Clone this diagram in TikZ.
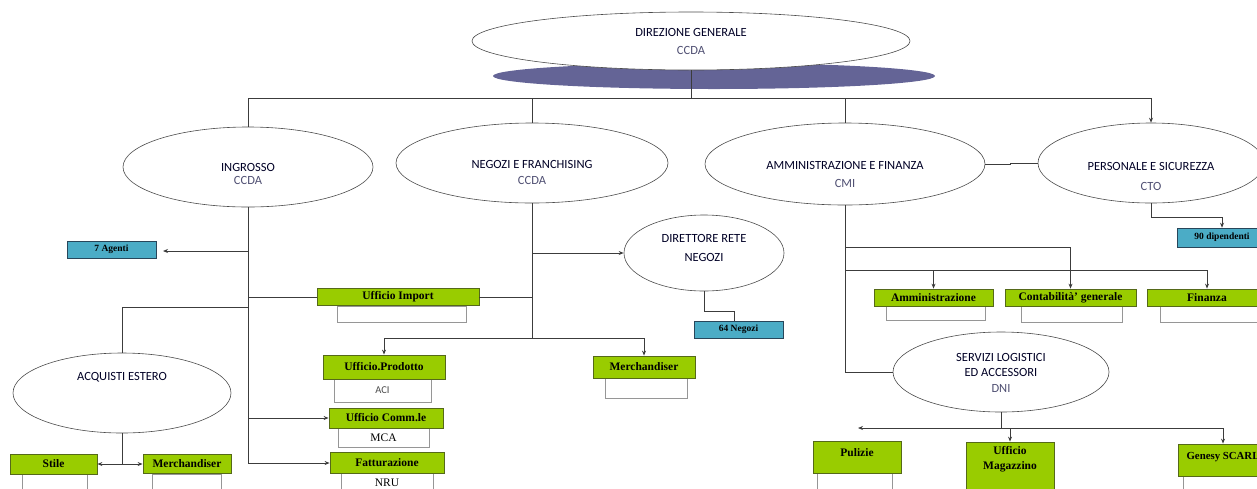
\documentclass[tikz,border=0pt]{standalone}
\usepackage{fontspec}
\setmainfont{Liberation Serif}
\newfontfamily\calibri{Carlito}
\usetikzlibrary{shapes.geometric,arrows.meta}
\definecolor{gfill}{RGB}{153,204,0}
\definecolor{gdraw}{RGB}{85,105,25}
\definecolor{bfill}{RGB}{75,172,198}
\definecolor{bdraw}{RGB}{40,70,90}
\definecolor{shad}{RGB}{100,100,150}
\definecolor{codec}{RGB}{80,80,115}
\definecolor{wdraw}{RGB}{150,150,150}
\definecolor{linec}{RGB}{60,60,60}
\begin{document}
\begin{tikzpicture}[x=1pt,y=-1pt,
  ell/.style={ellipse, draw=black!70, line width=0.6pt, fill=white, inner sep=0},
  etext/.style={font=\calibri\fontsize{12.5}{#1}\selectfont, align=center, inner sep=0, text=black!85!blue},
  gbox/.style={draw=gdraw, fill=gfill, line width=0.8pt, inner sep=0, font=\bfseries\fontsize{11.5}{13}\selectfont},
  bbox/.style={draw=bdraw, fill=bfill, line width=0.6pt, inner sep=0, font=\bfseries\fontsize{9.5}{11}\selectfont},
  wbox/.style={draw=wdraw, fill=white, line width=0.8pt, inner sep=0},
  conn/.style={draw=linec, line width=0.9pt},
  arr/.style={-{Stealth[length=5pt,width=4pt]}}]
\useasboundingbox (0,0) rectangle (1257,488);
\clip (0,0) rectangle (1257,488);

% top
\node[ellipse, fill=shad, minimum width=442pt, minimum height=26pt, inner sep=0] (shadow) at (714,76) {};
\node[ell, minimum width=438pt, minimum height=58pt] (dir) at (691,41) {};
\node[etext=18] (dirT) at (691,41) {DIREZIONE GENERALE\\\textcolor{codec}{CCDA}};

% level 2 ellipses
\node[ell, minimum width=250pt, minimum height=80pt] (ing) at (248,167) {};
\node[etext=13] (ingT) at (248,173.5) {INGROSSO\\\textcolor{codec}{CCDA}};
\node[ell, minimum width=272pt, minimum height=80pt] (neg) at (532,163) {};
\node[etext=16] (negT) at (532,172) {NEGOZI E FRANCHISING\\\textcolor{codec}{CCDA}};
\node[ell, minimum width=280pt, minimum height=82pt] (amm) at (845,164) {};
\node[etext=18] (ammT) at (845,174) {AMMINISTRAZIONE E FINANZA\\\textcolor{codec}{CMI}};
\node[ell, minimum width=226pt, minimum height=80pt] (pers) at (1151,163) {};
\node[etext=20] (persT) at (1151,176) {PERSONALE E SICUREZZA\\\textcolor{codec}{CTO}};

\node[ell, minimum width=160pt, minimum height=76pt] (dir2) at (704,253) {};
\node[etext=19] (dir2T) at (704,247.5) {DIRETTORE RETE\\NEGOZI};
\node[ell, minimum width=218pt, minimum height=80pt] (acq) at (122,393) {};
\node[etext=15] (acqT) at (122,377) {ACQUISTI ESTERO};
\node[ell, minimum width=216pt, minimum height=80pt] (serv) at (1001,372) {};
\node[etext=15.5] (servT) at (1001,372.5) {SERVIZI LOGISTICI\\ED ACCESSORI\\\textcolor{codec}{DNI}};

% white boxes
\node[wbox, minimum width=129pt, minimum height=16pt] (impW) at (401.5,314) {};
\node[wbox, minimum width=97pt, minimum height=23pt, font=\calibri\fontsize{10.5}{12}\selectfont, text=black!70] (prodW) at (382.5,390.5) {ACI};
\node[wbox, minimum width=91pt, minimum height=19pt, font=\fontsize{11.5}{13}\selectfont] (comW) at (383.5,437.5) {MCA};
\node[wbox, minimum width=92pt, minimum height=20pt, font=\fontsize{11.5}{13}\selectfont] (fatW) at (387,483) {NRU};
\node[wbox, minimum width=82pt, minimum height=20pt] (merW) at (646,388) {};
\node[wbox, minimum width=99pt, minimum height=14pt] (admW) at (935.5,313) {};
\node[wbox, minimum width=101pt, minimum height=16pt] (contW) at (1071.5,314) {};
\node[wbox, minimum width=110pt, minimum height=16pt] (finW) at (1215,314) {};
\node[wbox, minimum width=75pt, minimum height=16pt] (pulW) at (854.5,481) {};
\node[wbox, minimum width=82pt, minimum height=14pt] (genW) at (1224,483) {};
\node[wbox, minimum width=65pt, minimum height=16pt] (stiW) at (54.5,482) {};
\node[wbox, minimum width=69pt, minimum height=16pt] (mer2W) at (186.5,482) {};

% green boxes
\node[gbox, minimum width=162pt, minimum height=17pt] (imp) at (398,297) {Ufficio Import};
\node[gbox, minimum width=122pt, minimum height=24pt] (prod) at (384,367) {Ufficio.Prodotto};
\node[gbox, minimum width=114pt, minimum height=20pt] (com) at (386,418) {Ufficio Comm.le};
\node[gbox, minimum width=114pt, minimum height=21pt] (fat) at (387,463) {Fatturazione};
\node[gbox, minimum width=102pt, minimum height=22pt] (mer) at (644,367) {Merchandiser};
\node[gbox, minimum width=119pt, minimum height=17pt] (adm) at (933.5,297.5) {Amministrazione};
\node[gbox, minimum width=131pt, minimum height=17pt] (cont) at (1070.5,297.5) {Contabilità' generale};
\node[gbox, minimum width=120pt, minimum height=17pt] (fin) at (1207,297.5) {Finanza};
\node[gbox, minimum width=88pt, minimum height=32pt, text depth=10pt] (pul) at (857,457) {Pulizie};
\node[gbox, minimum width=88pt, minimum height=60pt] (mag) at (1010,472) {};
\node[font=\bfseries\fontsize{11.5}{15}\selectfont, align=center, inner sep=0] (magT) at (1010,459.5) {Ufficio\\Magazzino};
\node[gbox, minimum width=90pt, minimum height=32pt, text depth=9pt, font=\bfseries\fontsize{10.8}{13}\selectfont] (gen) at (1223,460) {Genesy SCARL};
\node[gbox, minimum width=87pt, minimum height=20pt] (sti) at (53.5,464) {Stile};
\node[gbox, minimum width=88pt, minimum height=19pt] (mer2) at (187,464) {Merchandiser};

% blue boxes
\node[bbox, minimum width=89pt, minimum height=17pt] (ag) at (111.5,249.5) {7 Agenti};
\node[bbox, minimum width=89pt, minimum height=17pt] (n64) at (738.5,329.5) {64 Negozi};
\node[bbox, minimum width=90pt, minimum height=19pt] (n90) at (1222,237.5) {90 dipendenti};

% top connectors
\coordinate (top) at (691,98);
\draw[conn] (dir.south) -- (top);
\draw[conn] (top) -| (ing.north);
\draw[conn] (top) -| (neg.north);
\draw[conn] (top) -| (amm.north);
\draw[conn,arr] (top) -| (pers.north);
\coordinate (ap) at (1010,164);
\draw[conn] (amm.east) -- (ap) |- (pers.west);

% ingrosso
\coordinate (iA) at (248,251);
\coordinate (iI) at (248,297);
\coordinate (iQ) at (248,307);
\coordinate (iC) at (248,418);
\coordinate (iF) at (248,463);
\coordinate (agEnd) at (163,251);
\draw[conn] (ing.south) -- (iF);
\draw[conn,arr] (iA) -- (agEnd);
\draw[conn] (iI) -- (imp.west);
\draw[conn] (iQ) -| (acq.north);
\draw[conn,arr] (iC) -- (com.west);
\draw[conn,arr] (iF) -- (fat.west);

% negozi
\coordinate (nD) at (532,253);
\coordinate (nI) at (532,297);
\coordinate (nB) at (532,338);
\draw[conn] (neg.south) -- (nB);
\draw[conn,arr] (nD) -- (dir2.west);
\draw[conn] (nI) -- (imp.east);
\draw[conn,arr] (nB) -| (prod.north);
\draw[conn,arr] (nB) -| (mer.north);
\coordinate (d64) at (734,311);
\draw[conn] (dir2.south) |- (d64) -- (d64 |- n64.north);

% amministrazione
\coordinate (aC) at (845,247);
\coordinate (aA) at (845,270);
\draw[conn] (amm.south) |- (serv.west);
\draw[conn,arr] (aC) -| (cont.north);
\draw[conn,arr] (aA) -| (adm.north);
\draw[conn,arr] (aA) -| (fin.north);

% personale
\coordinate (p90) at (1222,217);
\draw[conn,arr] (pers.south) |- (p90) -- (n90.north);

% servizi
\coordinate (sJ) at (1001,428);
\coordinate (sL) at (858,428);
\draw[conn] (serv.south) -- (sJ);
\draw[conn,arr] (sJ) -- (sL);
\draw[conn,arr] (sJ) -| (mag.north);
\draw[conn,arr] (sJ) -| (gen.north);

% acquisti
\coordinate (qJ) at (122,464);
\draw[conn] (acq.south) -- (qJ);
\draw[conn,arr] (qJ) -- (sti.east);
\draw[conn,arr] (qJ) -- (mer2.west);
\end{tikzpicture}
\end{document}
